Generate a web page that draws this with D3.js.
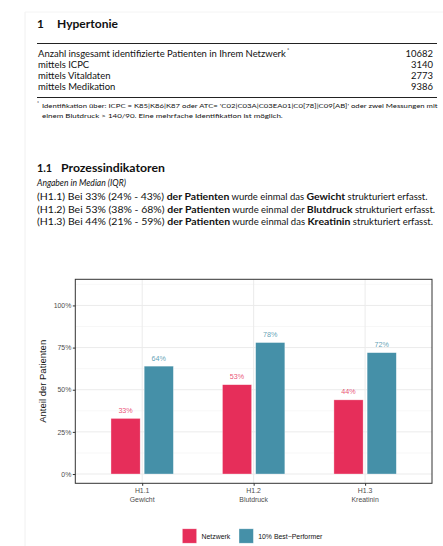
<!DOCTYPE html>
<html>
<head>
<meta charset="utf-8">
<script src="https://cdn.jsdelivr.net/npm/d3@7"></script>
<style>
  body { margin: 0; background: #fff; }
  svg { display: block; }
</style>
</head>
<body>
<svg id="page"></svg>
<script>
const WIDTH = 443;
const HEIGHT = 546;

// table rows
const tableLabels = ['Anzahl insgesamt identifizierte Patienten in Ihrem Netzwerk', 'mittels ICPC', 'mittels Vitaldaten', 'mittels Medikation'];
const tableValues = [10682, 3140, 2773, 9386];

// chart data
const categories = ['H1.1', 'H1.2', 'H1.3'];
const categoryNames = ['Gewicht', 'Blutdruck', 'Kreatinin'];
const seriesNames = ['Netzwerk', '10% Best\u2212Performer'];
const netzwerk = [33, 53, 44];
const bestPerformer = [64, 78, 72];
const medians = [33, 53, 44];
const iqrLow = [24, 38, 21];
const iqrHigh = [43, 68, 59];
const yTicks = [0, 25, 50, 75, 100];
const yMinor = [12.5, 37.5, 62.5, 87.5, 112.5];

const COLORS = ['#E62E5A', '#4590A8'];
const DOC_FONT = 'Lato, "Noto Sans", sans-serif';
const CHART_FONT = '"Liberation Sans", Arial, sans-serif';

const svg = d3.select('#page')
  .attr('width', WIDTH)
  .attr('height', HEIGHT);

// the document font is narrower than Lato: squeeze a line horizontally to the width it has
function squeeze(parent, x, y, size, target, build) {
  const g = parent.append('g');
  const t = g.append('text').attr('font-size', size);
  build(t);
  const k = target ? target / t.node().getComputedTextLength() : 1;
  g.attr('transform', `translate(${x}, ${y}) scale(${k}, 1)`);
  return k;
}

// faint page edge
svg.append('line').attr('x1', 25).attr('x2', 25).attr('y1', 12).attr('y2', HEIGHT)
  .attr('stroke', '#f0f0f0').attr('stroke-width', 1);
svg.append('line').attr('x1', 25).attr('x2', WIDTH).attr('y1', 12).attr('y2', 12)
  .attr('stroke', '#f4f4f4').attr('stroke-width', 1);

/* --HEADINGS AND TABLE-- */
const doc = svg.append('g').attr('font-family', DOC_FONT).attr('fill', '#111');

squeeze(doc, 37, 27.5, 11.8, 0, t => t.attr('font-weight', 'bold').text('1'));
squeeze(doc, 57, 27.5, 11.8, 61, t => t.attr('font-weight', 'bold').text('Hypertonie'));

doc.append('line').attr('x1', 37).attr('x2', 437).attr('y1', 43.5).attr('y2', 43.5)
  .attr('stroke', '#222').attr('stroke-width', 1);
doc.append('line').attr('x1', 37).attr('x2', 437).attr('y1', 97.5).attr('y2', 97.5)
  .attr('stroke', '#222').attr('stroke-width', 1);

const rowY = [56.7, 67.9, 79, 90.1];
const rowK = squeeze(doc, 38, rowY[0], 9.8, 248, t => t.text(tableLabels[0]));
doc.append('text').attr('x', 287).attr('y', rowY[0] - 5).attr('font-size', 5.5).text('*');
tableLabels.slice(1).forEach((lab, i) => {
  const g = doc.append('g').attr('transform', `translate(38, ${rowY[i + 1]}) scale(${rowK}, 1)`);
  g.append('text').attr('font-size', 9.8).text(lab);
});
tableValues.forEach((v, i) => {
  const g = doc.append('g').attr('transform', `translate(433, ${rowY[i]}) scale(${rowK}, 1)`);
  g.append('text').attr('font-size', 9.8).attr('text-anchor', 'end').text(v);
});

doc.append('text').attr('x', 37).attr('y', 105).attr('font-size', 5).text('*');
squeeze(doc, 42, 108, 6.2, 395, t => t.text('Identifikation \u00fcber: ICPC = K85|K86|K87 oder ATC= \'C02|C03A|C03EA01|C0[78]|C09[AB]\' oder zwei Messungen mit'));
squeeze(doc, 42, 117.5, 6.2, 241, t => t.text('einem Blutdruck > 140/90. Eine mehrfache Identifikation ist m\u00f6glich.'));

squeeze(doc, 37, 172, 10.8, 0, t => t.attr('font-weight', 'bold').text('1.1'));
squeeze(doc, 61, 172, 10.8, 104, t => t.attr('font-weight', 'bold').text('Prozessindikatoren'));

squeeze(doc, 37, 186, 9.2, 89, t => t.attr('font-style', 'italic').text('Angaben in Median (IQR)'));

const lineWidths = [391, 398, 396];
const lineY = [200.3, 212.8, 225.3];
const articles = ['das', 'der', 'das'];
categories.forEach((c, i) => {
  squeeze(doc, 37, lineY[i], 9.6, lineWidths[i], t => {
    t.append('tspan').text(`(${c}) Bei ${medians[i]}% (${iqrLow[i]}% - ${iqrHigh[i]}%) `);
    t.append('tspan').attr('font-weight', 'bold').text('der Patienten');
    t.append('tspan').attr('font-size', 8.7).text(` wurde einmal ${articles[i]} `);
    t.append('tspan').attr('font-weight', 'bold').text(categoryNames[i]);
    t.append('tspan').attr('font-size', 8.7).text(' strukturiert erfasst.');
  });
});

/* --CHART-- */
const PANEL_LEFT = 75.3;
const PANEL_RIGHT = 432;
const PANEL_TOP = 279.3;
const PANEL_BOTTOM = 483.3;

const chart = svg.append('g').attr('font-family', CHART_FONT);

const xScale = d3.scalePoint()
  .domain(categories)
  .range([PANEL_LEFT, PANEL_RIGHT])
  .padding(0.6);

const groupWidth = xScale.step() * 0.56;
const xInner = d3.scaleBand()
  .domain([0, 1])
  .range([-groupWidth / 2, groupWidth / 2])
  .paddingInner(0.12);

const yScale = d3.scaleLinear()
  .domain([-5.5, 115.5])
  .range([PANEL_BOTTOM, PANEL_TOP]);

// grid
chart.selectAll('.minor')
  .data(yMinor)
  .enter()
  .append('line')
  .attr('x1', PANEL_LEFT).attr('x2', PANEL_RIGHT)
  .attr('y1', d => yScale(d)).attr('y2', d => yScale(d))
  .attr('stroke', '#f2f2f2').attr('stroke-width', 0.6);
chart.selectAll('.major')
  .data(yTicks)
  .enter()
  .append('line')
  .attr('x1', PANEL_LEFT).attr('x2', PANEL_RIGHT)
  .attr('y1', d => yScale(d)).attr('y2', d => yScale(d))
  .attr('stroke', '#ebebeb').attr('stroke-width', 1);
chart.selectAll('.vgrid')
  .data(categories)
  .enter()
  .append('line')
  .attr('x1', d => xScale(d)).attr('x2', d => xScale(d))
  .attr('y1', PANEL_TOP).attr('y2', PANEL_BOTTOM)
  .attr('stroke', '#ebebeb').attr('stroke-width', 1);

// bars
const series = [netzwerk, bestPerformer];
series.forEach((vals, s) => {
  const g = chart.append('g');
  g.selectAll('rect')
    .data(vals)
    .enter()
    .append('rect')
    .attr('x', (d, i) => xScale(categories[i]) + xInner(s))
    .attr('y', d => yScale(d))
    .attr('width', xInner.bandwidth())
    .attr('height', d => yScale(0) - yScale(d))
    .attr('fill', COLORS[s])
    .attr('stroke', '#fff')
    .attr('stroke-opacity', 0.6)
    .attr('stroke-width', 0.6);
  g.selectAll('text')
    .data(vals)
    .enter()
    .append('text')
    .attr('x', (d, i) => xScale(categories[i]) + xInner(s) + xInner.bandwidth() / 2)
    .attr('y', d => yScale(d) - 5.5)
    .attr('text-anchor', 'middle')
    .attr('font-size', 7.2)
    .attr('fill', COLORS[s])
    .attr('fill-opacity', 0.85)
    .text(d => `${d}%`);
});

// panel border
chart.append('rect')
  .attr('x', PANEL_LEFT).attr('y', PANEL_TOP)
  .attr('width', PANEL_RIGHT - PANEL_LEFT).attr('height', PANEL_BOTTOM - PANEL_TOP)
  .attr('fill', 'none').attr('stroke', '#333').attr('stroke-width', 1);

// axes
const yAxis = d3.axisLeft(yScale)
  .tickValues(yTicks)
  .tickSize(2.5)
  .tickPadding(1.5)
  .tickFormat(d => `${d}%`);
const yG = chart.append('g')
  .attr('transform', `translate(${PANEL_LEFT}, 0)`)
  .call(yAxis);
yG.select('.domain').remove();
yG.selectAll('.tick line').attr('stroke', '#333');
yG.selectAll('.tick text').attr('fill', '#4d4d4d').attr('font-size', 6.9)
  .attr('font-family', CHART_FONT);

const xAxis = d3.axisBottom(xScale)
  .tickSize(2.5)
  .tickFormat(() => '');
const xG = chart.append('g')
  .attr('transform', `translate(0, ${PANEL_BOTTOM})`)
  .call(xAxis);
xG.select('.domain').remove();
xG.selectAll('.tick line').attr('stroke', '#333');

categories.forEach((c, i) => {
  const t = chart.append('text')
    .attr('x', xScale(c))
    .attr('y', 493)
    .attr('text-anchor', 'middle')
    .attr('font-size', 6.9)
    .attr('fill', '#4d4d4d');
  t.append('tspan').attr('x', xScale(c)).text(c);
  t.append('tspan').attr('x', xScale(c)).attr('dy', 8.7).text(categoryNames[i]);
});

const yTitle = chart.append('text')
  .attr('transform', `translate(46, ${(PANEL_TOP + PANEL_BOTTOM) / 2}) rotate(-90)`)
  .attr('text-anchor', 'middle')
  .attr('font-size', 9)
  .attr('fill', '#111')
  .text('Anteil der Patienten');
yTitle.attr('font-size', 9 * 83 / yTitle.node().getComputedTextLength());

/* --LEGEND-- */
const legendX = [182.3, 239];
const legend = chart.append('g');
seriesNames.forEach((name, s) => {
  legend.append('rect')
    .attr('x', legendX[s]).attr('y', 528.8)
    .attr('width', 14.4).attr('height', 14.4)
    .attr('fill', COLORS[s])
    .attr('stroke', '#fff').attr('stroke-opacity', 0.6).attr('stroke-width', 0.6);
  legend.append('text')
    .attr('x', legendX[s] + 19.2)
    .attr('y', 538.5)
    .attr('font-size', 6.9)
    .attr('fill', '#111')
    .text(name);
});
</script>
</body>
</html>
